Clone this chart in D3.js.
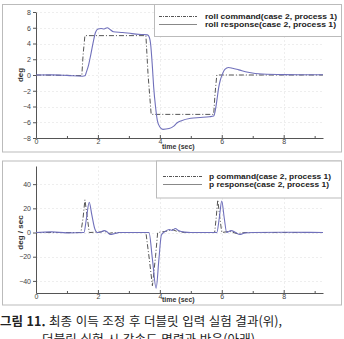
<!DOCTYPE html>
<html lang="ko">
<head>
    <meta charset="UTF-8">
    <title>roll / p doublet</title>
    <script src="https://cdn.jsdelivr.net/npm/d3@7"></script>
    <style>
        body { margin: 0; background: #fff; }
        svg { display: block; }
    </style>
</head>
<body>
<script type="application/javascript">
    // 윗 그래프: roll 명령과 반응 [time, deg]
    const rollCommand = [
        [0, 0], [1.0, -0.05], [1.48, -0.08], [1.52, 2.5], [1.58, 5],
        [3.55, 5], [3.62, 0], [3.72, -5], [5.74, -5], [5.78, -2.5],
        [5.84, 0], [9.27, 0]
    ];
    const rollResponse = [
        [0, 0], [0.5, 0.02], [1.0, -0.05], [1.5, -0.15], [1.58, -0.1],
        [1.63, 0.4], [1.7, 1.3], [1.77, 2.6], [1.85, 4.2], [1.92, 5.4],
        [2.0, 5.85], [2.1, 5.9], [2.2, 5.85], [2.3, 6.0], [2.4, 5.75],
        [2.5, 5.5], [2.8, 5.4], [3.1, 5.25], [3.4, 5.15], [3.6, 5.1],
        [3.66, 4.8], [3.7, 4.0], [3.76, 1.0], [3.8, -1.5], [3.86, -4.0],
        [3.92, -5.8], [4.0, -6.6], [4.1, -6.9], [4.3, -6.8], [4.45, -6.5],
        [4.55, -6.1], [4.7, -5.8], [5.0, -5.5], [5.3, -5.4], [5.6, -5.3],
        [5.74, -5.2], [5.8, -4.3], [5.85, -3.0], [5.9, -1.6], [5.95, -0.7],
        [6.02, 0.1], [6.1, 0.7], [6.22, 0.95], [6.35, 0.85], [6.55, 0.65],
        [6.85, 0.35], [7.3, 0.12], [8.0, 0.05], [9.27, 0.03]
    ];

    // 아랫 그래프: p 명령과 반응 [time, deg/sec]
    const pCommand = [
        [0, 0], [1.45, 0], [1.52, 12], [1.58, 27], [1.65, 14], [1.72, 0],
        [2.1, 0.5], [2.2, 1.2], [2.35, -0.8], [2.5, 0], [3.55, 0],
        [3.66, -22], [3.76, -44], [3.86, -20], [3.93, 0], [4.2, 1.0],
        [4.4, 2.5], [4.55, 1.0], [4.8, 0], [5.77, 0], [5.82, 12],
        [5.87, 27], [5.94, 12], [6.0, 0], [6.25, 1.0], [6.5, -1.0],
        [6.7, 0], [9.27, 0]
    ];
    const pResponse = [
        [0, 0], [0.5, 0.5], [1.0, -0.3], [1.55, 0], [1.62, 10], [1.72, 25],
        [1.8, 15], [1.9, 3], [1.98, 0], [2.1, 0.5], [2.2, 1.6], [2.3, 0.5],
        [2.4, -1.6], [2.55, -0.8], [2.7, 0], [3.65, 0], [3.76, -22],
        [3.88, -46], [3.97, -22], [4.05, -2], [4.15, 0.5], [4.3, 2.5],
        [4.4, 1.8], [4.5, 3.3], [4.6, 1.6], [4.8, 0.3], [5.0, 0],
        [5.84, 0], [5.92, 12], [6.0, 26], [6.08, 12], [6.16, 0],
        [6.3, 1.6], [6.45, 0], [6.58, -1.6], [6.75, -0.3], [7.0, 0],
        [8.0, 0.2], [9.27, 0]
    ];

    const xTicks = [0, 2, 4, 6, 8];
    const xMinorTicks = [1, 3, 5, 7, 9];
    const rollTicks = [-8, -6, -4, -2, 0, 2, 4, 6, 8];
    const pTicks = [-40, -20, 0, 20, 40];

    const w = 344, h = 339;
    const cmdColor = '#555', respColor = '#7070bb';

    let svg = d3.select('body')
        .append('svg')
        .attr('width', w)
        .attr('height', h);

    // 패널 하나 그리기
    function drawPanel(opt) {
        let g = svg.append('g');

        // 바깥 테두리
        g.append('rect')
            .attr('x', 2.5).attr('y', opt.top + 0.5)
            .attr('width', 339).attr('height', opt.bottom - opt.top)
            .attr('fill', 'none')
            .attr('stroke', '#bbb');

        let xScale = d3.scaleLinear()
            .domain([0, 9.27])
            .range([36, 323]);
        let yScale = d3.scaleLinear()
            .domain(opt.yDomain)
            .range(opt.yRange);

        // 옅은 격자
        g.selectAll('.hgrid')
            .data(opt.yTicks)
            .enter()
            .append('line')
            .attr('x1', 36).attr('x2', 323)
            .attr('y1', d => Math.round(yScale(d)) + 0.5)
            .attr('y2', d => Math.round(yScale(d)) + 0.5)
            .attr('stroke', '#eee')
            .attr('stroke-dasharray', '2,2');
        g.selectAll('.vgrid')
            .data(xTicks.slice(1))
            .enter()
            .append('line')
            .attr('x1', d => Math.round(xScale(d)) + 0.5)
            .attr('x2', d => Math.round(xScale(d)) + 0.5)
            .attr('y1', opt.yRange[1]).attr('y2', opt.yRange[0])
            .attr('stroke', '#eee')
            .attr('stroke-dasharray', '2,2');

        g.append('g')
            .attr('transform', 'translate(0,' + opt.yRange[0] + ')')
            .call(d3.axisBottom(xScale).tickValues(xTicks).tickSize(-3).tickSizeOuter(0).tickPadding(1));
        g.append('g')
            .attr('transform', 'translate(0,' + opt.yRange[0] + ')')
            .call(d3.axisBottom(xScale).tickValues(xMinorTicks).tickSize(-2).tickFormat(''))
            .call(a => a.select('.domain').remove());
        g.append('g')
            .attr('transform', 'translate(36,0)')
            .call(d3.axisLeft(yScale).tickValues(opt.yTicks).tickSize(3).tickSizeOuter(0).tickPadding(2));

        g.selectAll('.domain, .tick line').attr('stroke', '#555');
        g.selectAll('.tick text')
            .attr('font-family', 'Liberation Sans, sans-serif')
            .attr('font-size', '7px')
            .attr('fill', '#444');

        // 축 이름
        g.append('text')
            .text('time (sec)')
            .attr('x', 162)
            .attr('y', opt.bottom - 2.5)
            .attr('font-family', 'Liberation Sans, sans-serif')
            .attr('font-weight', 'bold')
            .attr('font-size', '7px')
            .attr('fill', '#333');
        g.append('text')
            .text(opt.yLabel)
            .attr('transform', 'translate(23,' + yScale(0) + ') rotate(-90)')
            .attr('text-anchor', 'middle')
            .attr('font-family', 'Liberation Sans, sans-serif')
            .attr('font-weight', 'bold')
            .attr('font-size', '8px')
            .attr('fill', '#333');

        let line = d3.line()
            .x(d => xScale(d[0]))
            .y(d => yScale(d[1]));

        g.append('path')
            .datum(opt.cmd)
            .attr('d', line.curve(d3.curveLinear))
            .attr('fill', 'none')
            .attr('stroke', cmdColor)
            .attr('stroke-width', 1)
            .attr('stroke-dasharray', '5,2,1,2');
        g.append('path')
            .datum(opt.resp)
            .attr('d', line.curve(d3.curveMonotoneX))
            .attr('fill', 'none')
            .attr('stroke', respColor)
            .attr('stroke-width', 1.1);

        // 범례
        let lg = opt.legend;
        g.append('rect')
            .attr('x', lg.x + 0.5).attr('y', opt.top + 0.5)
            .attr('width', 341.5 - lg.x - 0.5).attr('height', lg.h)
            .attr('fill', '#fff')
            .attr('stroke', '#bbb');
        let items = [
            {label: lg.labels[0], color: cmdColor, dash: '3,1,1,1', y: lg.y1, len: lg.len[0]},
            {label: lg.labels[1], color: '#888', dash: null, y: lg.y2, len: lg.len[1]}
        ];
        items.forEach(it => {
            g.append('line')
                .attr('x1', lg.lx1).attr('x2', lg.lx2)
                .attr('y1', it.y + 0.5).attr('y2', it.y + 0.5)
                .attr('stroke', it.color)
                .attr('stroke-dasharray', it.dash);
            g.append('text')
                .text(it.label)
                .attr('x', lg.tx)
                .attr('y', it.y + 3)
                .attr('textLength', it.len)
                .attr('lengthAdjust', 'spacingAndGlyphs')
                .attr('font-family', 'Liberation Sans, sans-serif')
                .attr('font-weight', 'bold')
                .attr('font-size', '7.8px')
                .attr('fill', '#222');
        });
    }

    drawPanel({
        top: 4, bottom: 151.5,
        yDomain: [-8, 8], yRange: [138, 12], yTicks: rollTicks,
        yLabel: 'deg', cmd: rollCommand, resp: rollResponse,
        legend: {
            x: 154, h: 32, lx1: 159, lx2: 197, tx: 205, y1: 16, y2: 24,
            len: [132, 131],
            labels: ['roll command(case 2, process 1)', 'roll response(case 2, process 1)']
        }
    });

    drawPanel({
        top: 160.5, bottom: 304.5,
        yDomain: [-50, 55], yRange: [293, 166], yTicks: pTicks,
        yLabel: 'deg / sec', cmd: pCommand, resp: pResponse,
        legend: {
            x: 156, h: 37, lx1: 163, lx2: 202, tx: 209, y1: 176, y2: 184,
            len: [122, 120],
            labels: ['p command(case 2, process 1)', 'p response(case 2, process 1)']
        }
    });

    // 그림 설명
    let cap1 = svg.append('text')
        .attr('x', 0)
        .attr('y', 326)
        .attr('textLength', 282)
        .attr('lengthAdjust', 'spacing')
        .attr('font-family', 'Noto Sans CJK KR, sans-serif')
        .attr('font-size', '12.5px')
        .attr('fill', '#222');
    cap1.append('tspan').attr('font-weight', 'bold').text('그림 11.');
    cap1.append('tspan').text(' 최종 이득 조정 후 더블릿 입력 실험 결과(위),');

    svg.append('text')
        .text('더블릿 실험 시 각속도 명령과 반응(아래)')
        .attr('x', 42)
        .attr('y', 344)
        .attr('textLength', 213)
        .attr('lengthAdjust', 'spacing')
        .attr('font-family', 'Noto Sans CJK KR, sans-serif')
        .attr('font-size', '12.5px')
        .attr('fill', '#222');
</script>
</body>
</html>
